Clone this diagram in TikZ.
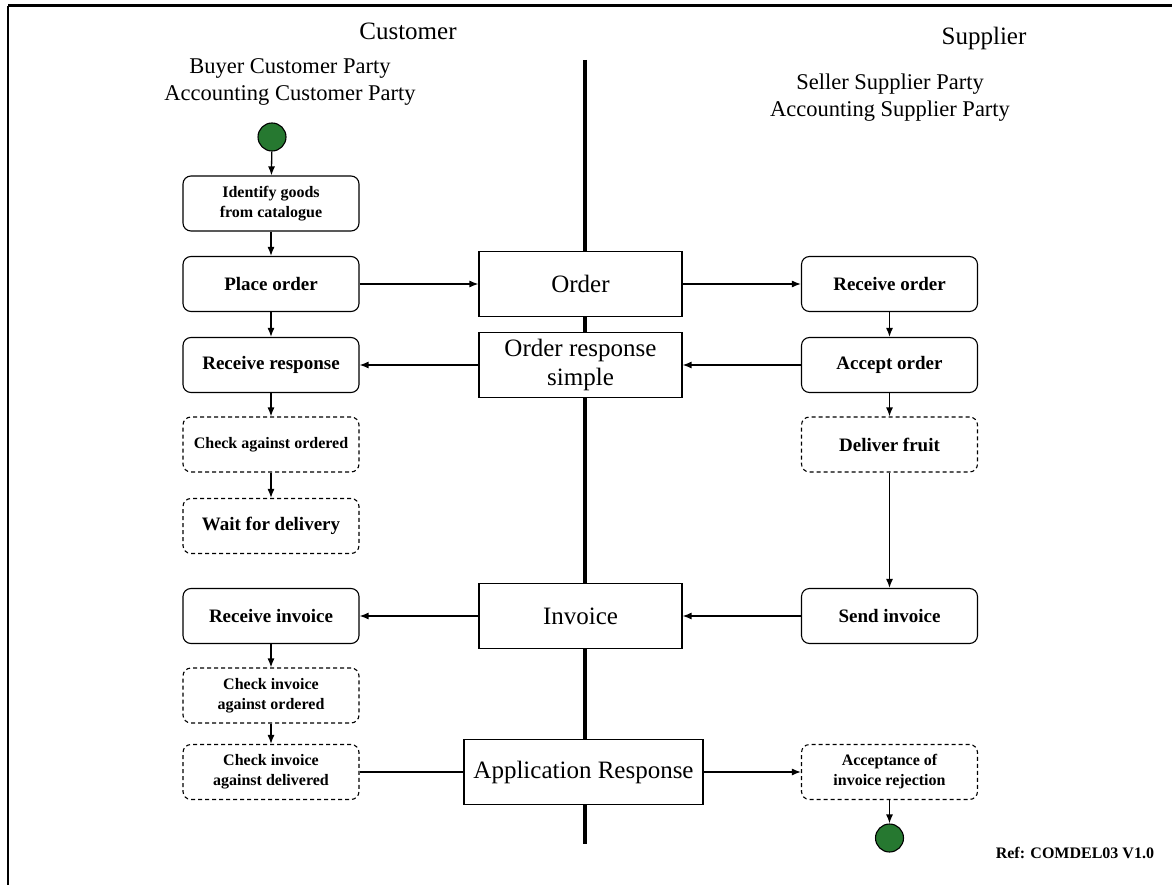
\documentclass[tikz,border=0pt]{standalone}
\usepackage{fontspec}
\setmainfont{Liberation Serif}
\usetikzlibrary{arrows.meta}
\definecolor{startgreen}{RGB}{38,120,48}
\newcommand{\lanefont}{\fontsize{25}{29}\selectfont}
\newcommand{\partyfont}{\fontsize{22.5}{27}\selectfont}
\newcommand{\actfont}{\fontsize{19}{22}\selectfont\bfseries}
\newcommand{\smallact}{\fontsize{16}{20}\selectfont\bfseries}

\begin{document}
\begin{tikzpicture}[x=1pt, y=-1pt, ->, >={Latex[length=9pt,width=7pt]}, line width=1.3pt,
    act/.style = {draw, line width=1.1pt, rounded corners=8pt, fill=white, minimum width=176pt, minimum height=55pt, inner sep=0pt, align=center, font=\actfont},
    opt/.style = {act, dash pattern=on 4pt off 3pt},
    doc/.style = {draw, line width=1.1pt, fill=white, minimum width=203pt, minimum height=65pt, inner sep=0pt, align=center, font=\lanefont},
    dot/.style = {circle, draw, line width=1.1pt, fill=startgreen, minimum size=28pt, inner sep=0pt}]
    \useasboundingbox (0,0) rectangle (1172,885);

    % Frame and swimlane divider
    \draw[-, line width=3pt] (8,6) -- (1172,6);
    \draw[-, line width=1.2pt] (8,6) -- (8,885);
    \coordinate (laneTop) at (585,60);
    \coordinate (laneBot) at (585,844);
    \draw[-, line width=4pt] (laneTop) -- (laneBot);

    % Lane headings
    \node[font=\lanefont] (cust) at (408,31) {Customer};
    \node[font=\lanefont] (supp) at (984,38) {Supplier};
    \node[font=\partyfont, align=center] (custparty) at (290,82) {Buyer Customer Party\\Accounting Customer Party};
    \node[font=\partyfont, align=center] (suppparty) at (890,98) {Seller Supplier Party\\Accounting Supplier Party};

    % Customer activities
    \node[dot] (start) at (272,137) {};
    \node[act, font=\smallact] (ident) at (271,203.5) {Identify goods\\from catalogue};
    \node[act] (place) at (271,284) {Place order};
    \node[act] (recresp) at (271,365) {Receive response};
    \node[opt, font=\smallact] (chkord) at (271,444.5) {Check against ordered};
    \node[opt] (wait) at (271,526) {Wait for delivery};
    \node[act] (recinv) at (271,616) {Receive invoice};
    \node[opt, font=\smallact] (chkinvord) at (271,695.5) {Check invoice\\against ordered};
    \node[opt, font=\smallact] (chkinvdel) at (271,772) {Check invoice\\against delivered};

    % Documents
    \node[doc] (order) at (580.5,284) {Order};
    \node[doc] (ordresp) at (580.5,365) {Order response\\simple};
    \node[doc] (invoice) at (580.5,616) {Invoice};
    \node[doc, minimum width=239pt] (appresp) at (583.5,772) {Application Response};

    % Supplier activities
    \node[act] (record) at (889.5,284) {Receive order};
    \node[act] (accord) at (889.5,365) {Accept order};
    \node[opt] (deliver) at (889.5,444.5) {Deliver fruit};
    \node[act] (sendinv) at (889.5,616) {Send invoice};
    \node[opt, font=\smallact] (accrej) at (889.5,772) {Acceptance of\\invoice rejection};
    \node[dot] (stop) at (889.5,838) {};

    \node[font=\smallact, anchor=east] (ref) at (1158,853) {Ref: COMDEL03 V1.0};

    % Edges
    \draw (start) to (ident);
    \draw (ident) to (place);
    \draw (place) to (order);
    \draw (order) to (record);
    \draw (record) to (accord);
    \draw (accord) to (ordresp);
    \draw (ordresp) to (recresp);
    \draw (place) to (recresp);
    \draw (recresp) to (chkord);
    \draw (chkord) to (wait);
    \draw (accord) to (deliver);
    \draw (deliver) to (sendinv);
    \draw (sendinv) to (invoice);
    \draw (invoice) to (recinv);
    \draw (recinv) to (chkinvord);
    \draw (chkinvord) to (chkinvdel);
    \draw[-] (chkinvdel) to (appresp);
    \draw (appresp) to (accrej);
    \draw (accrej) to (stop);

\end{tikzpicture}
\end{document}
